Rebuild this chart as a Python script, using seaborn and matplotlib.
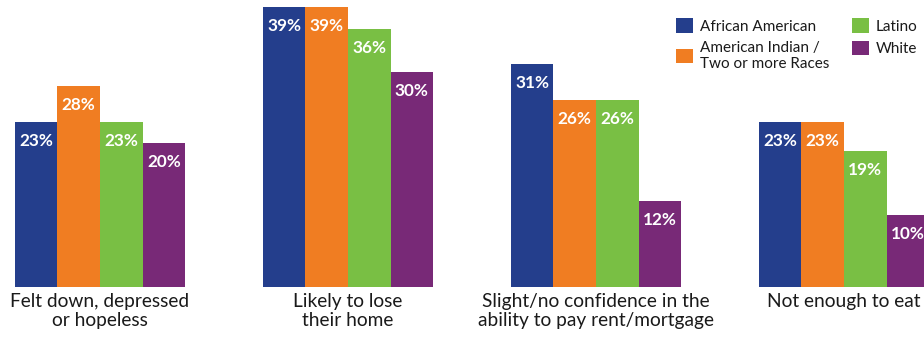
import matplotlib
matplotlib.use("Agg")
import matplotlib.pyplot as plt
import seaborn as sns
import pandas as pd

categories = ["Felt down, depressed\nor hopeless", "Likely to lose\ntheir home",
              "Slight/no confidence in the\nability to pay rent/mortgage", "Not enough to eat"]
groups = ["African American", "American Indian /\nTwo or more Races", "Latino", "White"]
african_american = [23, 39, 31, 23]
american_indian = [28, 39, 26, 23]
latino = [23, 36, 26, 19]
white = [20, 30, 12, 10]
colors = ["#243E8C", "#F07D22", "#79BF44", "#782977"]

rows = []
for g, vals in zip(groups, [african_american, american_indian, latino, white]):
    for c, v in zip(categories, vals):
        rows.append({"cat": c, "group": g, "val": v})
df = pd.DataFrame(rows)

sns.set_style("white")
plt.rcParams["font.family"] = ["Lato", "DejaVu Sans"]

fig = plt.figure(figsize=(9.24, 3.37), dpi=100)
ax = fig.add_axes([0, 50 / 337, 1, 287 / 337])
sns.barplot(data=df, x="cat", y="val", hue="group", order=categories, hue_order=groups,
            palette=colors, width=0.6855, dodge=True, gap=0, saturation=1, ax=ax,
            linewidth=0, errorbar=None)
ax.set_xlim(-100 / 248, 824 / 248)
ax.set_ylim(0, 287 / 7.18)
ax.set_xlabel("")
ax.set_ylabel("")
ax.set_yticks([])
ax.tick_params(axis="x", length=0, pad=4, labelsize=13.8, labelcolor="#1a1a1a")
for s in ax.spines.values():
    s.set_visible(False)

for cont in ax.containers:
    for bar in cont:
        h = bar.get_height()
        ax.annotate(f"{h:.0f}%", (bar.get_x() + bar.get_width() / 2, h),
                    xytext=(0, -19), textcoords="offset pixels", ha="center", va="center",
                    color="white", fontsize=12.3, fontweight="bold")

handles, labels = ax.get_legend_handles_labels()
if ax.legend_:
    ax.legend_.remove()
leg = fig.legend(handles, labels, ncol=2, loc="upper left", bbox_to_anchor=(664 / 924, 1 - 6 / 337),
                 frameon=False, fontsize=11, handlelength=1.1, handleheight=1.1,
                 handletextpad=0.45, columnspacing=1.5, labelspacing=0.45, borderpad=0.3)
for t in leg.get_texts():
    t.set_color("#1a1a1a")

fig.savefig("out.png", dpi=100)
